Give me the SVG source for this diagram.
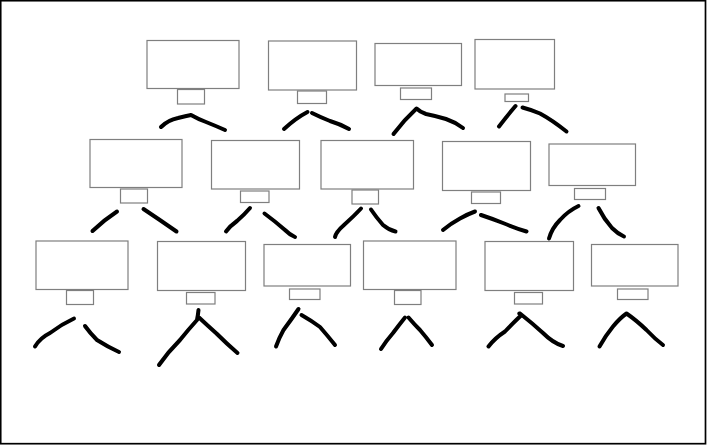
<svg xmlns="http://www.w3.org/2000/svg" width="707" height="445" viewBox="0 0 707 445">
<style>
.box{fill:#fff;stroke:#7f7f7f;stroke-width:1.2}
.ink{fill:none;stroke:#000;stroke-width:4;stroke-linecap:round;stroke-linejoin:round}
</style>
<rect x="0" y="0" width="707" height="445" fill="#fff"/>
<rect x="0.7" y="0.7" width="704.8" height="443" fill="none" stroke="#000" stroke-width="1.7"/>
<g id="a1"><rect class="box" x="147" y="40.5" width="92" height="48"/><rect class="box" x="177.5" y="89.5" width="27" height="14.5"/></g>
<g id="a2"><rect class="box" x="268.5" y="41" width="88" height="49"/><rect class="box" x="297.5" y="91" width="29" height="12.5"/></g>
<g id="a3"><rect class="box" x="375" y="43.5" width="86.5" height="42"/><rect class="box" x="400.5" y="88" width="31" height="11.5"/></g>
<g id="a4"><rect class="box" x="475" y="39.5" width="79.5" height="49.5"/><rect class="box" x="505" y="94" width="23.5" height="7.5"/></g>
<g id="b1"><rect class="box" x="90" y="139.5" width="92" height="48"/><rect class="box" x="120.5" y="189" width="27" height="14"/></g>
<g id="b2"><rect class="box" x="211.5" y="140.5" width="88" height="48.5"/><rect class="box" x="240.5" y="191" width="28.5" height="11.5"/></g>
<g id="b3"><rect class="box" x="321" y="140.5" width="92.5" height="48.5"/><rect class="box" x="352" y="190" width="26.5" height="14"/></g>
<g id="b4"><rect class="box" x="442.5" y="141.5" width="88" height="49"/><rect class="box" x="471.5" y="192" width="29" height="11.5"/></g>
<g id="b5"><rect class="box" x="549" y="144" width="86.5" height="41.5"/><rect class="box" x="574.5" y="188.5" width="31" height="11"/></g>
<g id="c1"><rect class="box" x="36" y="241" width="92" height="48.5"/><rect class="box" x="66.5" y="290.5" width="27" height="14"/></g>
<g id="c2"><rect class="box" x="157.5" y="241.5" width="88" height="49"/><rect class="box" x="186.5" y="292.5" width="28.5" height="11.5"/></g>
<g id="c3"><rect class="box" x="264" y="244.5" width="86.5" height="41.5"/><rect class="box" x="289.5" y="289" width="30.5" height="10.5"/></g>
<g id="c4"><rect class="box" x="363.5" y="241" width="92.5" height="48.5"/><rect class="box" x="394.5" y="290.5" width="26.5" height="14"/></g>
<g id="c5"><rect class="box" x="485" y="241.5" width="88.5" height="49"/><rect class="box" x="514.5" y="292.5" width="28" height="11.5"/></g>
<g id="c6"><rect class="box" x="591.5" y="244.5" width="86.5" height="41.5"/><rect class="box" x="617.5" y="289" width="30.5" height="10.5"/></g>
<g id="connectors" class="ink">
<path d="M161,127 Q168,120 178,118 Q186,116 191,115 Q198,119 206,122 Q216,126 225,130"/>
<path d="M284,129 Q296,118 307.5,112"/>
<path d="M312,113 Q320,117 330,121 Q340,124 349,129"/>
<path d="M393.5,134 Q404,120 416.5,108.5 Q420,112 426,114 Q436,116 446,119 Q455,122 463,128"/>
<path d="M499,126.5 Q507,116 515.5,106"/>
<path d="M522.5,107.5 Q532,110 540,113.5 Q552,120 566.5,131.5"/>
<path d="M92.5,231 Q104,220 117,211.5"/>
<path d="M143.5,209 Q160,220 176.5,231.5"/>
<path d="M226,231.5 Q230,226 237,221 Q244,215 250,208"/>
<path d="M264.5,213.5 Q276,222 285,230 Q290,235 295,237"/>
<path d="M335,237 Q336,232 344,225 Q354,216 361,208.5"/>
<path d="M371,209.5 Q376,217 383,225 Q389,230 395.5,231.5"/>
<path d="M443,230 Q450,224 460,218.5 Q468,214 475,211.5"/>
<path d="M481,215 Q493,219 503,223 Q515,228 526.5,231.5"/>
<path d="M549,238.5 Q552,228 560,220 Q568,211 578.5,206"/>
<path d="M598.5,208 Q604,219 612,228 Q618,234 624,236.5"/>
<path d="M35,346.5 Q40,338 50,333 Q62,324 74,318.5"/>
<path d="M85,326 Q90,333 97,340 Q108,347 119,352"/>
<path d="M198.5,310 Q198,315 197,320 Q188,330 180,340 Q168,352 159,365"/>
<path d="M199,317.5 Q207,325 216.5,333.5 Q227,344 237.5,353"/>
<path d="M276,346.5 Q279,338 283.5,330 Q291,320 298.5,309"/>
<path d="M301.5,315 Q312,321 320,327 Q327,335 335,345"/>
<path d="M381,349 Q386,341 393,333 Q399,325 405,317.5"/>
<path d="M408.5,317.5 Q414,324 420,330 Q426,337 432,345"/>
<path d="M488.5,346.5 Q495,338 505,331.5 Q513,323 521.5,315 Q518,313 520,313.5 Q532,323 543,333 Q553,343 563,346"/>
<path d="M599.5,346.5 Q606,335 613,326.5 Q620,318 626.5,313.5 Q636,320 646.5,330 Q655,339 663,345"/>
</g>
</svg>
